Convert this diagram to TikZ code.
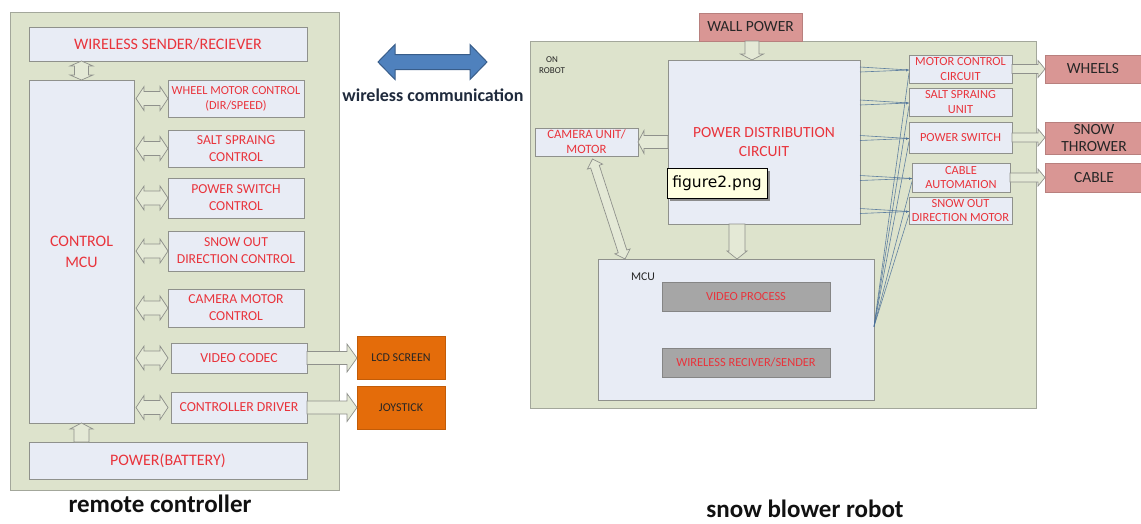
\documentclass[tikz,border=0pt]{standalone}
\usepackage{fontspec}
\setmainfont{Carlito}
\newfontfamily\tipfont{DejaVu Sans}
\usetikzlibrary{calc,shadows,arrows.meta}

\definecolor{panel}{HTML}{DDE3CC}
\definecolor{panelline}{HTML}{A3A79B}
\definecolor{boxfill}{HTML}{E8ECF5}
\definecolor{boxline}{HTML}{8F918C}
\definecolor{lbl}{HTML}{E8343C}
\definecolor{darktext}{HTML}{262626}
\definecolor{orangebox}{HTML}{E46C0A}
\definecolor{pinkbox}{HTML}{D99694}
\definecolor{graybox}{HTML}{A6A6A6}
\definecolor{arrowblue}{HTML}{4F81BD}
\definecolor{arrowblueline}{HTML}{385D8A}
\definecolor{wirecol}{HTML}{4A6F98}
\definecolor{tipfill}{HTML}{FFFFE1}
\definecolor{captext}{HTML}{111111}
\definecolor{navytext}{HTML}{1F2A3C}

\newcommand\fs[2]{\fontsize{#1}{#2}\selectfont}

\tikzset{
  % a rectangle given by its corners (x1,y1) and (x2,y2)
  area/.style n args={4}{at={({(#1+#3)/2},{(#2+#4)/2})},
    minimum width={(#3)-(#1)}, minimum height={(#4)-(#2)}},
  panelbox/.style={draw=panelline, fill=panel, line width=0.8pt, inner sep=0pt, outer sep=0pt},
  unit/.style={draw=boxline, fill=boxfill, line width=0.8pt, text=lbl, align=center, inner sep=0pt, outer sep=0pt},
  pinkunit/.style={draw=pinkbox!85!black, fill=pinkbox, line width=0.8pt, text=darktext, align=center, inner sep=0pt, outer sep=0pt, font=\fs{15.5}{17}},
  orangeunit/.style={draw=orangebox!85!black, fill=orangebox, line width=0.8pt, text=darktext, inner sep=0pt, outer sep=0pt, font=\fs{12}{14}},
  grayunit/.style={draw=graybox!80!black, fill=graybox, line width=0.8pt, text=lbl, inner sep=0pt, outer sep=0pt, font=\fs{12.4}{14}},
  tipbox/.style={draw=black, line width=1pt, fill=tipfill, inner sep=0pt, outer sep=0pt,
    drop shadow={shadow xshift=2.5pt, shadow yshift=-2.5pt, fill=black!45, opacity=1}},
  caption/.style={font=\fs{25}{30}\bfseries, text=captext, inner sep=0pt},
  blockfill/.style={fill=panel!80!white, draw=boxline, line width=0.7pt},
  wire/.style={draw=wirecol, line width=0.6pt, opacity=0.85},
  % single block arrow: shaft half width, head half width, head length
  barrow/.style n args={3}{to path={
    let \p1=(\tikztostart), \p2=(\tikztotarget),
        \n1={atan2(\y2-\y1,\x2-\x1)}, \n2={veclen(\x2-\x1,\y2-\y1)} in
    {[shift={(\p1)}, rotate=\n1]
      (0pt,-#1) -- (\n2-#3,-#1) -- (\n2-#3,-#2) -- (\n2,0pt) -- (\n2-#3,#2)
      -- (\n2-#3,#1) -- (0pt,#1) -- cycle}
  }},
  % block arrow with a head at both ends
  dbarrow/.style n args={3}{to path={
    let \p1=(\tikztostart), \p2=(\tikztotarget),
        \n1={atan2(\y2-\y1,\x2-\x1)}, \n2={veclen(\x2-\x1,\y2-\y1)} in
    {[shift={(\p1)}, rotate=\n1]
      (#3,-#1) -- (\n2-#3,-#1) -- (\n2-#3,-#2) -- (\n2,0pt) -- (\n2-#3,#2)
      -- (\n2-#3,#1) -- (#3,#1) -- (#3,#2) -- (0pt,0pt) -- (#3,-#2) -- cycle}
  }},
}

\begin{document}
\begin{tikzpicture}[x=1pt,y=-1pt]
\fill[white] (0,0) rectangle (1141,523);
\useasboundingbox (0,0) rectangle (1141,523);

% ---------------- remote controller ----------------
\node[panelbox, area={10}{12}{339}{490}] (rc) {};
\node[unit, area={29}{27}{307}{61}, font=\fs{16}{19}] (ws) {WIRELESS SENDER/RECIEVER};
\node[unit, area={29}{80}{134}{423}, font=\fs{16}{21}] (cmcu) {CONTROL\\MCU};
\node[unit, area={168}{80}{304}{117}, font=\fs{12.3}{15}] (wmc) {WHEEL MOTOR CONTROL\\(DIR/SPEED)};
\node[unit, area={168}{130}{304}{167}, font=\fs{13.7}{17}] (ssc) {SALT SPRAING\\CONTROL};
\node[unit, area={168}{178}{304}{218}, font=\fs{13.7}{17}] (psc) {POWER SWITCH\\CONTROL};
\node[unit, area={168}{231}{304}{271}, font=\fs{13.7}{17}] (sodc) {SNOW OUT\\DIRECTION CONTROL};
\node[unit, area={168}{289}{304}{327}, font=\fs{13.7}{17}] (cmc) {CAMERA MOTOR\\CONTROL};
\node[unit, area={171}{343}{307}{373}, font=\fs{13.8}{16}] (vc) {VIDEO CODEC};
\node[unit, area={171}{392}{307}{423}, font=\fs{13.8}{16}] (cd) {CONTROLLER DRIVER};
\node[unit, area={29}{442}{307}{479}, font=\fs{16}{19}] (pb) {POWER(BATTERY)};
\node[orangeunit, area={357}{336}{445}{379}] (lcd) {LCD SCREEN};
\node[orangeunit, area={357}{386}{445}{429}] (joy) {JOYSTICK};

\path[blockfill] (cmcu.north |- ws.south) to[dbarrow={7pt}{11.5pt}{5pt}] (cmcu.north);
\foreach \b in {wmc,ssc,psc,sodc,cmc,vc,cd}
  \path[blockfill] ($(cmcu.east |- \b.west)+(2,0)$) to[dbarrow={7pt}{12pt}{8pt}] (wmc.west |- \b.west);
\path[blockfill] (cmcu.south |- pb.north) to[barrow={7.5pt}{11.5pt}{6pt}] (cmcu.south);
\path[blockfill] (vc.east) to[barrow={6.5pt}{14pt}{10pt}] (lcd.west |- vc.east);
\path[blockfill] (cd.east) to[barrow={6.5pt}{14pt}{10pt}] (joy.west |- cd.east);

\node[caption] (rclabel) at (160,504) {remote controller};

% ---------------- wireless link ----------------
\coordinate (wl) at (378,62);
\coordinate (wr) at (487,62);
\path[fill=arrowblue, draw=arrowblueline, line width=1pt] (wl) to[dbarrow={7.5pt}{17.5pt}{17pt}] (wr);
\node[font=\fs{18}{21}\bfseries, text=navytext, inner sep=0pt] (wlabel) at (433,95) {wireless communication};

% ---------------- snow blower robot ----------------
\node[panelbox, area={530}{41}{1036}{408}] (robot) {};
\node[pinkunit, area={699}{13}{802}{41}] (wall) {WALL POWER};
\node[unit, area={668}{60}{860}{224}, font=\fs{15.5}{19}] (pdc) {POWER DISTRIBUTION\\CIRCUIT};
\node[font=\fs{9}{11.5}, text=darktext, align=center, inner sep=0pt] (onrobot) at (552,65) {ON\\ROBOT};
\node[unit, area={535}{128}{638}{156}, font=\fs{12.7}{15}] (cam) {CAMERA UNIT/\\MOTOR};
\node[unit, area={598}{259}{874}{400}] (mcu2) {};
\node[font=\fs{11.8}{14}, text=darktext, inner sep=0pt] (mculabel) at (643,277) {MCU};
\node[grayunit, area={662}{282}{830}{311}] (vp) {VIDEO PROCESS};
\node[grayunit, area={662}{348}{830}{377}] (wrs) {WIRELESS RECIVER/SENDER};

\node[unit, area={909}{55}{1012}{83}, font=\fs{12.4}{14.5}] (mcc) {MOTOR CONTROL\\CIRCUIT};
\node[unit, area={909}{88}{1012}{116}, font=\fs{12.4}{14.5}] (ssu) {SALT SPRAING\\UNIT};
\node[unit, area={909}{122}{1012}{153}, font=\fs{12.4}{14.5}] (ps) {POWER SWITCH};
\node[unit, area={912}{163}{1010}{192}, font=\fs{12.4}{14.5}] (ca) {CABLE\\AUTOMATION};
\node[unit, area={909}{197}{1012}{224}, font=\fs{12.4}{14.5}] (sodm) {SNOW OUT\\DIRECTION MOTOR};

\node[pinkunit, area={1045}{55}{1143}{83}] (wheels) {\hspace*{-2pt}WHEELS};
\node[pinkunit, area={1045}{122}{1143}{154}] (snow) {SNOW\\THROWER};
\node[pinkunit, area={1045}{163}{1143}{192}] (cable) {CABLE};

\path[blockfill] ($(wall.south)+(1.5,0)$) to[barrow={7pt}{11.5pt}{6pt}] ($(wall.south |- pdc.north)+(1.5,0)$);
\path[blockfill] (pdc.west |- cam.east) to[barrow={6.5pt}{11.5pt}{6pt}] (cam.east);
\path[blockfill] ($(pdc.south)+(-27,0)$) to[barrow={8pt}{10pt}{8pt}] ($(pdc.south |- mcu2.north)+(-27,0)$);
\path[blockfill] ($(cam.south)+(6,3)$) to[dbarrow={4.5pt}{8pt}{8pt}] ($(mcu2.north west)+(27,0)$);
\foreach \a/\b in {mcc/wheels, ps/snow, ca/cable}
  \path[blockfill] (\a.east) to[barrow={4.5pt}{8.5pt}{7pt}] (\b.west |- \a.east);

% power feeds to the driver units
\foreach \b in {mcc,ssu,ps,ca,sodm} {
  \draw[wire] ($(pdc.east |- \b.west)+(0,-2)$) -- ($(\b.west)+(0,1)$);
  \draw[wire, -{Latex[length=3pt,width=3pt]}] ($(pdc.east |- \b.west)+(0,3)$) -- ($(\b.west)+(0,1)$);
}
% control lines from the MCU
\coordinate (fan) at ($(mcu2.east)+(0,-3)$);
\foreach \b in {mcc,ssu,ps,ca,sodm}
  \draw[wire] (fan) -- ($(\b.west)+(0,4)$);

\node[tipbox, area={667}{168}{767}{198}, font=\tipfont\fs{15.5}{18}] (tip) {figure2.png};

\node[caption] (sblabel) at (805,509) {snow blower robot};
\end{tikzpicture}
\end{document}
